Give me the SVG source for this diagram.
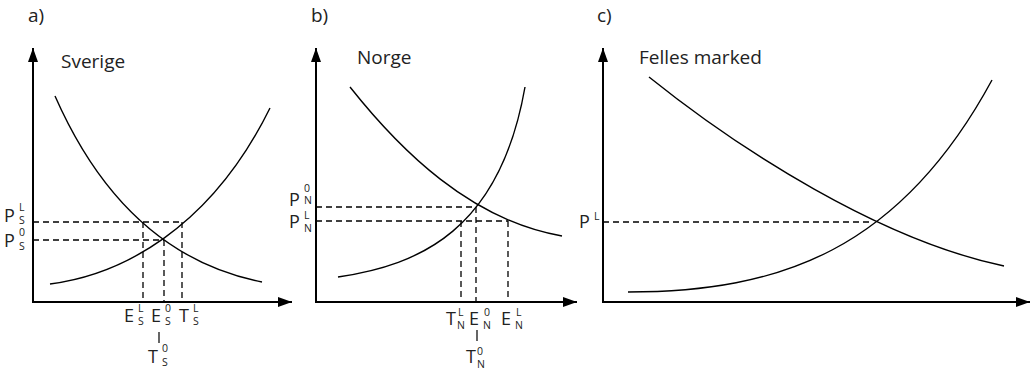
<svg xmlns="http://www.w3.org/2000/svg" width="1031" height="372" viewBox="0 0 1031 372">
<defs>
<marker id="arr" markerUnits="userSpaceOnUse" markerWidth="16" markerHeight="10" refX="14" refY="5" orient="auto">
<path d="M0,0 L14,5 L0,10 Z" fill="#000"/>
</marker>
<style>
.ax{stroke:#000;stroke-width:2;fill:none}
.cv{stroke:#000;stroke-width:1.4;fill:none}
.ds{stroke:#000;stroke-width:1.3;stroke-dasharray:6 4;fill:none}
.tk{stroke:#000;stroke-width:1.2}
text{font-family:"Open Sans","Noto Sans","DejaVu Sans",sans-serif;fill:#222}
.t{font-size:19px}
.m{font-size:18px}
.s{font-size:10.5px}
</style>
</defs>
<rect width="1031" height="372" fill="#fff"/>

<g id="panel-a">
<text class="t" x="28" y="22">a)</text>
<text class="t" x="61" y="68">Sverige</text>
</g>
<g id="panel-b">
<text class="t" x="311" y="22">b)</text>
<text class="t" x="357" y="64">Norge</text>
</g>
<g id="panel-c">
<text class="t" x="597" y="22">c)</text>
<text class="t" x="639" y="64">Felles marked</text>
</g>

<g id="connectors">
<path class="ax" d="M33,302 V48" marker-end="url(#arr)"/>
<path class="ax" d="M32,302 H292" marker-end="url(#arr)"/>
<path class="ax" d="M316,302 V48" marker-end="url(#arr)"/>
<path class="ax" d="M315,302 H577" marker-end="url(#arr)"/>
<path class="ax" d="M603,302 V48" marker-end="url(#arr)"/>
<path class="ax" d="M602,302 H1030" marker-end="url(#arr)"/>
<path class="cv" d="M55,96 Q125,255 262,282"/>
<path class="cv" d="M50,284 C120,275 210,230 270,108"/>
<path class="cv" d="M350,87 C400,150 470,220 562,236"/>
<path class="cv" d="M338,277 C420,265 500,230 525,87"/>
<path class="cv" d="M649,77 C740,150 880,240 1004,266"/>
<path class="cv" d="M628,292 C780,292 900,250 992,80"/>
<path class="ds" d="M33,222 H182 M33,240 H164 M143,222 V302 M164,240 V302 M182,222 V302"/>
<path class="ds" d="M316,207 H476 M316,221 H508 M461,221 V302 M476,207 V302 M508,221 V302"/>
<path class="ds" d="M603,222 H869"/>
<path class="tk" d="M159,332 V343 M477,330 V341"/>
</g>

<g id="labels-a">
<text class="m" x="4" y="222">P</text><text class="s" x="19" y="211">L</text><text class="s" x="19" y="224">S</text>
<text class="m" x="4" y="247">P</text><text class="s" x="19" y="236">0</text><text class="s" x="19" y="250">S</text>
<text class="m" x="124" y="322">E</text><text class="s" x="138" y="312">L</text><text class="s" x="138" y="325">S</text>
<text class="m" x="151" y="322">E</text><text class="s" x="165" y="312">0</text><text class="s" x="165" y="325">S</text>
<text class="m" x="179" y="322">T</text><text class="s" x="193" y="312">L</text><text class="s" x="193" y="325">S</text>
<text class="m" x="148" y="363">T</text><text class="s" x="162" y="352">0</text><text class="s" x="162" y="366">S</text>
</g>
<g id="labels-b">
<text class="m" x="289" y="206">P</text><text class="s" x="304" y="192">0</text><text class="s" x="304" y="204">N</text>
<text class="m" x="289" y="228">P</text><text class="s" x="304" y="219">L</text><text class="s" x="304" y="232">N</text>
<text class="m" x="446" y="325">T</text><text class="s" x="458" y="316">L</text><text class="s" x="457" y="329">N</text>
<text class="m" x="469" y="325">E</text><text class="s" x="484" y="316">0</text><text class="s" x="483" y="329">N</text>
<text class="m" x="501" y="325">E</text><text class="s" x="516" y="316">L</text><text class="s" x="515" y="329">N</text>
<text class="m" x="466" y="363">T</text><text class="s" x="477" y="355">0</text><text class="s" x="477" y="368">N</text>
</g>
<g id="labels-c">
<text class="m" x="579" y="228">P</text><text class="s" x="594" y="220">L</text>
</g>
</svg>
